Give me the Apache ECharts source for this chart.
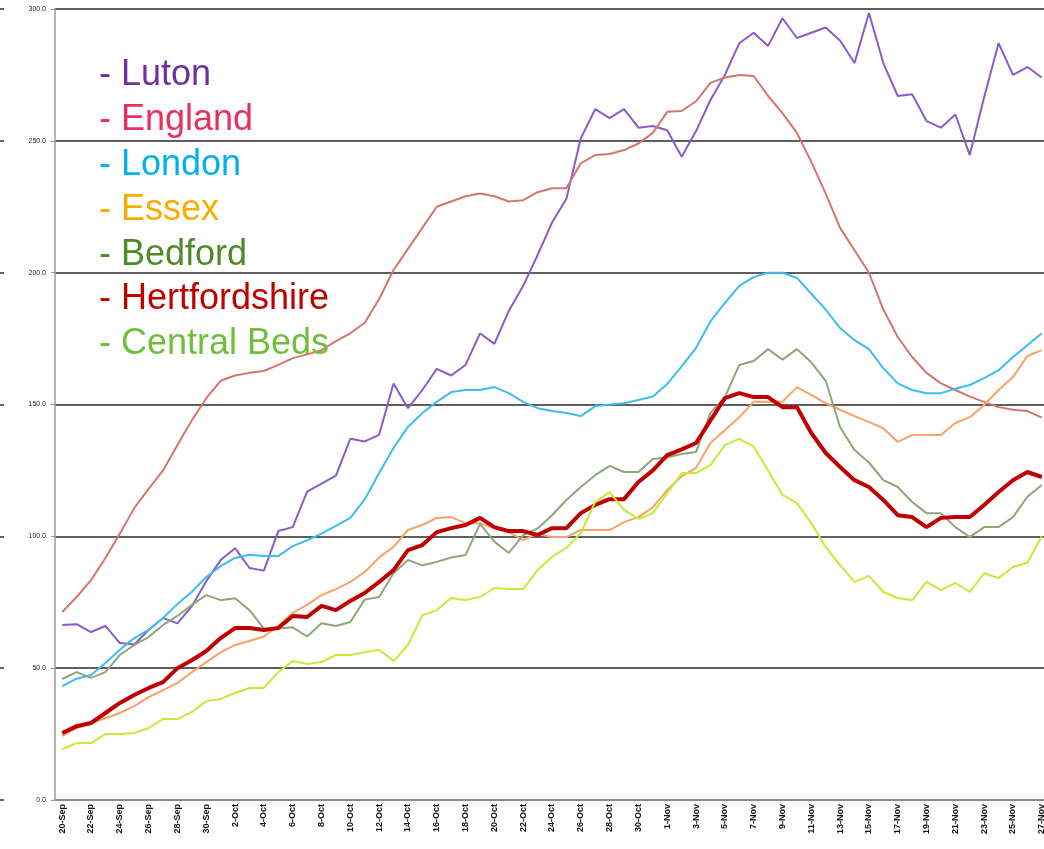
<!DOCTYPE html>
<html>
<head>
<meta charset="utf-8">
<script src="https://cdn.jsdelivr.net/npm/echarts@6/dist/echarts.min.js"></script>
<style>
  html, body { margin: 0; padding: 0; background: #fff; overflow: hidden; }
  /* a few px wider than the window: the plot runs past the right edge like the cropped original */
  #chart { width: 1050px; height: 849px; }
</style>
</head>
<body>
<div id="chart"></div>
<script>
const dates = [
  '20-Sep', '21-Sep', '22-Sep', '23-Sep', '24-Sep', '25-Sep', '26-Sep', '27-Sep', '28-Sep', '29-Sep', '30-Sep',
  '1-Oct', '2-Oct', '3-Oct', '4-Oct', '5-Oct', '6-Oct', '7-Oct', '8-Oct', '9-Oct', '10-Oct',
  '11-Oct', '12-Oct', '13-Oct', '14-Oct', '15-Oct', '16-Oct', '17-Oct', '18-Oct', '19-Oct', '20-Oct',
  '21-Oct', '22-Oct', '23-Oct', '24-Oct', '25-Oct', '26-Oct', '27-Oct', '28-Oct', '29-Oct', '30-Oct', '31-Oct',
  '1-Nov', '2-Nov', '3-Nov', '4-Nov', '5-Nov', '6-Nov', '7-Nov', '8-Nov', '9-Nov', '10-Nov',
  '11-Nov', '12-Nov', '13-Nov', '14-Nov', '15-Nov', '16-Nov', '17-Nov', '18-Nov', '19-Nov', '20-Nov',
  '21-Nov', '22-Nov', '23-Nov', '24-Nov', '25-Nov', '26-Nov', '27-Nov'
]

const luton = [
  66.4, 66.7, 63.7, 66, 59.5, 59, 64.5, 69, 67, 73.5, 83,
  91, 95.5, 88, 87, 102, 103.5, 117, 120, 123, 137,
  136, 138.5, 158, 148.6, 155.5, 163.5, 161, 165, 177, 173,
  185.5, 195, 206.7, 219, 228, 251, 262, 258.6, 262, 255, 255.6,
  254, 244, 253.7, 265.5, 275, 287, 291, 286, 296.5, 289,
  291, 293, 288, 279.5, 298.5, 279.5, 267, 267.7, 257.5, 255,
  260, 244.6, 266.6, 287, 275, 278, 274
]
const england = [
  71.3, 77, 83.4, 91.8, 101, 110.7, 118, 125, 134.6, 144, 152.4,
  159, 161, 162, 162.7, 165, 167.6, 169, 170.6, 174, 177,
  181, 190, 201, 209, 217, 225, 227, 229, 230, 229,
  227, 227.5, 230.5, 232, 232, 241.5, 244.6, 245, 246.5, 249, 253,
  261, 261.3, 265, 272, 274, 275, 274.6, 267, 260.5, 253,
  242, 230, 217, 208.5, 200, 186, 175.6, 168, 162, 158,
  155.5, 153, 151, 149, 148, 147.5, 145
]
const london = [
  43.2, 46, 47.4, 52, 57, 61.4, 64.5, 69, 74.3, 79, 84.6,
  88.7, 91.8, 93, 92.5, 92.5, 96.3, 98.5, 101, 104, 107,
  114, 124, 133.5, 141.5, 146.8, 151, 154.7, 155.5, 155.5, 156.6,
  154.3, 151, 148.6, 147.5, 146.8, 145.6, 149.4, 150, 150.5, 151.7, 153,
  157.8, 164.5, 171.5, 181.5, 188.5, 195, 198.3, 200, 200, 198,
  192, 186, 179, 174.4, 171, 163.8, 158, 155.5, 154.3, 154.3,
  156, 157.4, 160, 163, 168, 172.5, 177
]
const essex = [
  24.3, 27.3, 29.2, 31, 33, 35.6, 39, 41.7, 44.4, 48.5, 52.3,
  56, 58.8, 60.3, 62, 66, 71, 74, 77.7, 80, 82.7,
  86.5, 92, 96, 102.4, 104.3, 107, 107.3, 105, 105, 103,
  101.6, 98.6, 101, 99.7, 99.7, 102.4, 102.4, 102.4, 105.4, 107.3, 111,
  117.6, 122.8, 126, 135.4, 140.3, 145.2, 151, 151, 151, 156.6,
  153.6, 150.5, 148, 145.6, 143.3, 141, 135.8, 138.4, 138.4, 138.4,
  143, 145.2, 149.8, 155.5, 160.4, 168.4, 170.6
]
const bedford = [
  45.9, 48.5, 46.3, 48.5, 55, 58.8, 61.8, 66.4, 69.8, 74, 77.7,
  75.8, 76.5, 72, 65, 65, 65.5, 62, 67, 66, 67.5,
  76, 77, 86, 91, 89, 90.3, 92, 92.9, 104.7, 98,
  93.7, 100.5, 103, 108, 113.8, 118.7, 123.2, 126.7, 124.4, 124.4, 129.3,
  130, 131.2, 132, 146.8, 152.8, 165, 166.5, 171, 167, 171,
  166, 159, 141.4, 132.7, 128, 121.3, 118.7, 113, 108.8, 108.8,
  103.5, 99.7, 103.5, 103.5, 107.3, 115, 119.5
]
const hertfordshire = [
  25.4, 28, 29.2, 33, 36.8, 39.8, 42.5, 44.7, 50, 53, 56.5,
  61.4, 65.2, 65.2, 64.5, 65.2, 69.8, 69.4, 73.6, 72, 75.5,
  78.5, 82.7, 87.2, 94.8, 96.7, 101.6, 103.1, 104.3, 107, 103.5,
  102, 102, 100.5, 103.1, 103.1, 108.8, 111.9, 114.1, 114.1, 120.6, 125,
  130.8, 133, 135.4, 144, 152.4, 154.3, 152.8, 152.8, 149, 149,
  139.2, 131.6, 126.3, 121.3, 118.7, 113.8, 108, 107.3, 103.5, 107,
  107.3, 107.3, 111.9, 116.8, 121.3, 124.4, 122.5
]
const centralBeds = [
  19.3, 21.6, 21.6, 25, 25, 25.4, 27.3, 30.7, 30.7, 33.4, 37.5,
  38.3, 40.6, 42.5, 42.5, 48.5, 52.7, 51.6, 52.3, 55, 55,
  56, 57, 52.7, 58.8, 70, 72, 76.6, 75.8, 77, 80.4,
  80, 80, 87.2, 92.2, 95.6, 101.2, 113, 116.8, 110, 106.6, 108.8,
  116.4, 124, 124, 127, 134.6, 137, 134, 125, 115.7, 112.6,
  105, 96, 89, 82.7, 85, 78.9, 76.6, 75.8, 82.7, 79.6,
  82.3, 78.9, 86, 84.2, 88.4, 90, 100
]

const seriesNames = ['Luton', 'England', 'London', 'Essex', 'Bedford', 'Hertfordshire', 'Central Beds']
const seriesData = [luton, england, london, essex, bedford, hertfordshire, centralBeds]
const lineColors = ['#8B5CC6', '#D4756F', '#3DBDF0', '#F9A268', '#8FA676', '#C00000', '#C2EB3A']
const legendColors = ['#7030A0', '#E8305C', '#00B0F0', '#F9AC00', '#4F8A2A', '#C00000', '#70BF3A']
const lineWidths = [2, 2, 2, 2, 2, 4, 2]

const chart = echarts.init(document.getElementById('chart'))

chart.setOption({
  animation: false,
  backgroundColor: '#fff',
  grid: { left: 55, top: 9, right: 1, bottom: 49 },
  legend: {
    orient: 'vertical',
    left: 79,
    top: 48,
    icon: 'none',
    itemWidth: 10,
    itemHeight: 14,
    itemGap: 0,
    formatter: '- {name}',
    selectedMode: false,
    textStyle: { fontSize: 36, lineHeight: 44.8, fontFamily: 'Liberation Sans, Arial, sans-serif' },
    data: seriesNames.map((name, i) => ({ name, textStyle: { color: legendColors[i] } })),
  },
  xAxis: {
    type: 'category',
    data: dates,
    boundaryGap: true,
    axisLine: { lineStyle: { color: '#9a9a9a', width: 1.5 } },
    axisTick: { interval: 1, length: 4, lineStyle: { color: '#9a9a9a' } },
    axisLabel: {
      interval: 1,
      rotate: 90,
      margin: 4,
      fontSize: 9,
      fontWeight: 'bold',
      color: '#111',
      fontFamily: 'Liberation Sans, Arial, sans-serif',
    },
    splitLine: { show: false },
  },
  yAxis: [
    {
      type: 'value',
      min: 0,
      max: 300,
      interval: 50,
      axisLine: { show: true, lineStyle: { color: '#9a9a9a', width: 1.5 } },
      axisTick: { show: true, length: 4, lineStyle: { color: '#9a9a9a' } },
      axisLabel: {
        margin: 9,
        fontSize: 7,
        color: '#222',
        fontFamily: 'Liberation Sans, Arial, sans-serif',
        formatter: (v) => v.toFixed(1),
      },
      splitLine: { lineStyle: { color: '#2a2a2a', width: 1.5 } },
    },
    {
      // cropped tick marks of a neighbouring chart at the far left edge
      type: 'value',
      position: 'left',
      offset: 51,
      min: 0,
      max: 300,
      interval: 50,
      axisLine: { show: false },
      axisTick: { show: true, length: 4, lineStyle: { color: '#333', width: 1.5 } },
      axisLabel: { show: false },
      splitLine: { show: false },
    },
  ],
  series: seriesNames.map((name, i) => ({
    name,
    type: 'line',
    data: seriesData[i],
    symbol: 'none',
    smooth: false,
    lineStyle: { color: lineColors[i], width: lineWidths[i] },
    itemStyle: { color: lineColors[i] },
  })),
})
</script>
</body>
</html>
